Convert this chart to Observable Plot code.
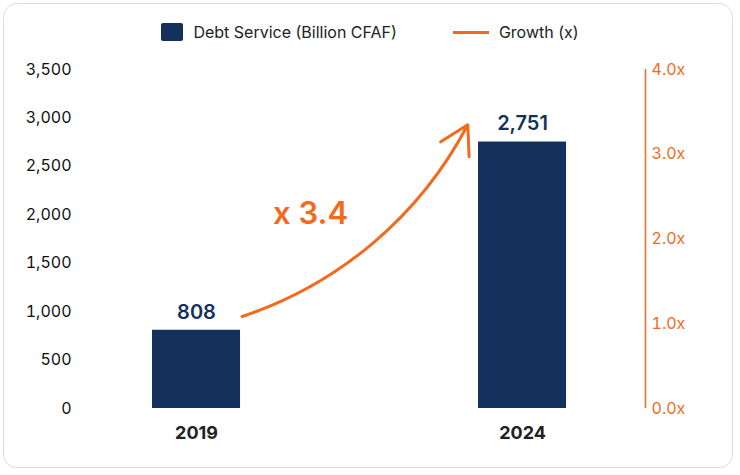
<!DOCTYPE html>
<html><head><meta charset="utf-8">
<script src="https://cdn.jsdelivr.net/npm/d3@7"></script>
<script src="https://cdn.jsdelivr.net/npm/@observablehq/plot@0.6"></script>
<style>
body{margin:0;background:#fff;font-family:Inter,"Noto Sans",sans-serif;}
#card{position:absolute;left:3px;top:3px;width:730px;height:465px;border:1px solid #dcdcdc;border-radius:14px;box-sizing:border-box;}
#legend{position:absolute;top:22px;left:0;width:740px;display:flex;justify-content:center;gap:56px;font-size:16px;color:#222;}
#legend span{display:flex;align-items:center;gap:10px;}
#chart{position:absolute;top:55px;left:0;}
</style></head>
<body>
<div id="card"></div>
<div id="legend">
<span><i style="display:inline-block;width:22px;height:18px;background:#13315c;border-radius:2px"></i>Debt Service (Billion CFAF)</span>
<span><i style="display:inline-block;width:36px;height:3px;background:#f26b1d"></i>Growth (x)</span>
</div>
<div id="chart"></div>
<script>
const years = [2019, 2024];
const debt = [808, 2751];
const leftTicks = [0, 500, 1000, 1500, 2000, 2500, 3000, 3500];
const growthTicks = [0, 1, 2, 3, 4];
const growthLabel = "x 3.4";
const navy = "#13315c", orange = "#f26b1d";
const perX = 875; // 3500 / 4.0x

const data = years.map((y, i) => ({year: y, value: debt[i]}));

const chart = Plot.plot({
  width: 740,
  height: 400,
  marginTop: 14,
  marginBottom: 47,
  marginLeft: 75,
  marginRight: 95,
  style: {fontFamily: "Inter, 'Noto Sans', sans-serif"},
  x: {domain: [2017.144, 2025.886], axis: null},
  y: {domain: [0, 3500], axis: null},
  marks: [
    Plot.axisY({ticks: leftTicks, tickSize: 0, tickPadding: 4, tickFormat: d3.format(","), fontSize: 16, color: "#111", label: null}),
    Plot.axisY({anchor: "right", ticks: growthTicks.map(g => g * perX), tickSize: 0, tickPadding: 6,
      tickFormat: d => (d / perX).toFixed(1) + "x", fontSize: 16, color: orange, label: null}),
    Plot.ruleX([2025.886], {stroke: orange, strokeWidth: 1.5}),
    Plot.rectY(data, {x1: d => d.year - 0.675, x2: d => d.year + 0.675, y: "value", fill: navy}),
    Plot.text(data, {x: "year", y: "value", text: d => d3.format(",")(d.value), dy: -18, fontSize: 20, fontWeight: 600, fill: navy}),
    Plot.text(data, {x: "year", y: 0, text: d => String(d.year), dy: 25, fontSize: 18, fontWeight: 700, fill: "#222"}),
    Plot.arrow([{x1: 2019.7, y1: 950, x2: 2023.16, y2: 2930}], {x1: "x1", y1: "y1", x2: "x2", y2: "y2", bend: -22, stroke: orange, strokeWidth: 3, headLength: 16}),
    Plot.text([growthLabel], {x: 2020.75, y: 2010, text: d => d, fontSize: 31, fontWeight: 600, fill: orange})
  ]
});
document.querySelector("#chart").append(chart);
</script>
</body></html>
